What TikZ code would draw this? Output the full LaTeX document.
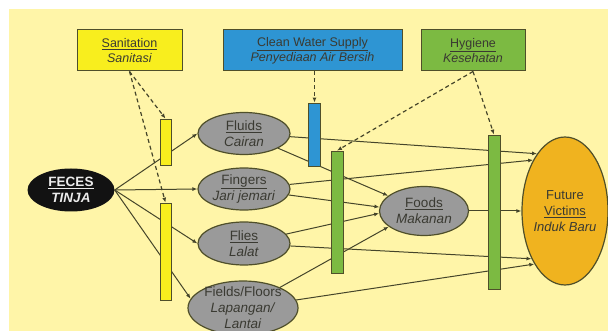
\documentclass[tikz,border=0pt]{standalone}
\usepackage{fontspec}
\setmainfont{Liberation Sans}
\usetikzlibrary{shapes.geometric,arrows.meta}
\definecolor{paper}{HTML}{FFF5A8}
\definecolor{sun}{HTML}{F8EE1E}
\definecolor{sky}{HTML}{2E95D3}
\definecolor{leaf}{HTML}{7CBA42}
\definecolor{stone}{HTML}{9A9A9A}
\definecolor{amber}{HTML}{F0B31F}
\definecolor{edge}{HTML}{4F4F2A}
\definecolor{wire}{HTML}{45452A}
\definecolor{ink}{HTML}{3A3A32}
\begin{document}
\begin{tikzpicture}[x=1pt,y=-1pt,
  every node/.style={inner sep=0pt},
  box/.style={draw=edge,line width=1pt,minimum height=41pt,align=center,text=ink,font=\fontsize{12.5}{15}\selectfont},
  bar/.style={draw=edge,line width=.8pt,minimum width=11pt},
  blob/.style={ellipse,draw=edge,line width=1.2pt,fill=stone},
  blobtxt/.style={align=center,text=ink,font=\fontsize{13.5}{16}\selectfont},
  route/.style={draw=wire,line width=1pt,-{Latex[length=5pt,width=4pt]}},
  cue/.style={draw=wire,line width=1.2pt,dash pattern=on 4pt off 3pt,-{Latex[length=5pt,width=4pt]}}]
\useasboundingbox (0,0) rectangle (608,331);
\fill[white] (0,0) rectangle (608,331);
\fill[paper] (9,9) rectangle (608,331);

% factor boxes
\node[box,fill=sun,minimum width=105pt] (sanit) at (129.5,50.5) {\underline{Sanitation}\\\textit{Sanitasi}};
\node[box,fill=sky,minimum width=179pt] (water) at (312.5,50.5) {\underline{Clean Water Supply}\\\textit{Penyediaan Air Bersih}};
\node[box,fill=leaf,minimum width=104pt] (hygiene) at (473,50.5) {\underline{Hygiene}\\\textit{Kesehatan}};

% source, routes, targets
\node[ellipse,fill=black!93,minimum width=87pt,minimum height=43pt] (feces) at (71,190) {};
\node[align=center,text=white!92!black,font=\fontsize{13.5}{16}\selectfont\bfseries] (fecesT) at (feces) {\underline{FECES}\\\textit{TINJA}};

\node[blob,minimum width=92pt,minimum height=42pt] (fluids) at (244,133.5) {};
\node[blobtxt] (fluidsT) at (fluids) {\underline{Fluids}\\\textit{Cairan}};
\node[blob,minimum width=92pt,minimum height=42pt] (fingers) at (244,189) {};
\node[blobtxt] (fingersT) at (fingers) {\underline{Fingers}\\\textit{Jari jemari}};
\node[blob,minimum width=92pt,minimum height=43pt] (flies) at (244,243.5) {};
\node[blobtxt] (fliesT) at (flies) {\underline{Flies}\\\textit{Lalat}};
\node[blob,minimum width=110pt,minimum height=54pt] (fields) at (243,308) {};
\node[blobtxt] (fieldsT) at (fields) {Fields/Floors\\\textit{Lapangan/}\\\textit{Lantai}};

\node[blob,minimum width=89pt,minimum height=49pt] (foods) at (424,211) {};
\node[blobtxt] (foodsT) at (foods) {\underline{Foods}\\\textit{Makanan}};
\node[ellipse,draw=edge,line width=1.2pt,fill=amber,minimum width=86pt,minimum height=148pt] (victims) at (565,211) {};
\node[align=center,text=ink,font=\fontsize{13}{16}\selectfont] (victimsT) at (victims) {Future\\\underline{Victims}\\\textit{Induk Baru}};

\draw[route] (feces.east) -- (fluids.west);
\draw[route] (feces.east) -- (fingers.west);
\draw[route] (feces.east) -- (flies.west);
\draw[route] (feces.east) -- (fields.170);

\draw[route] (fluids) -- (victims.116);
\draw[route] (fluids) -- (foods.157);
\draw[route] (fingers) -- (victims.122);
\draw[route] (fingers) -- (foods.175);
\draw[route] (flies) -- (foods.183);
\draw[route] (flies) -- (victims.235);
\draw[route] (fields) -- (foods.204);
\draw[route] (fields) -- (victims.240);
\draw[route] (foods) -- (victims);

% barriers
\node[bar,fill=sun,minimum height=46pt] (ybar1) at (165.5,142) {};
\node[bar,fill=sun,minimum height=97pt] (ybar2) at (165.5,251.5) {};
\node[bar,fill=sky,minimum width=12pt,minimum height=63pt] (bbar) at (314.5,134.5) {};
\node[bar,fill=leaf,minimum width=12pt,minimum height=122pt] (gbar1) at (337,212) {};
\node[bar,fill=leaf,minimum width=12pt,minimum height=154pt] (gbar2) at (494,212) {};

\draw[cue] (sanit.south) -- (ybar1.north);
\draw[cue] (sanit.south) -- (ybar2.north);
\draw[cue] (water.south -| bbar.north) -- (bbar.north);
\draw[cue] (hygiene.south) -- (gbar1.north);
\draw[cue] (hygiene.south) -- (gbar2.north);
\end{tikzpicture}
\end{document}
